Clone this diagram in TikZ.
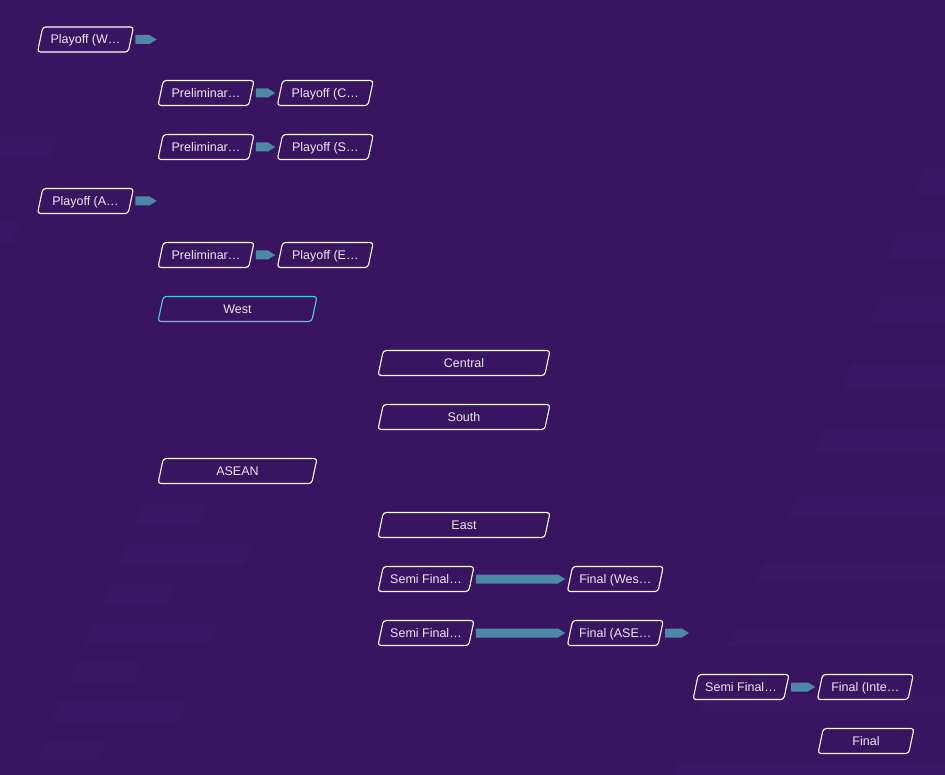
\documentclass[tikz,border=0pt]{standalone}
\usepackage{fontspec}
\setmainfont{Liberation Sans}
\usetikzlibrary{positioning,shapes.geometric,arrows.meta}

\definecolor{bg}{HTML}{391461}
\definecolor{stripe}{HTML}{3C1765}
\definecolor{lnk}{HTML}{4B8AA7}
\definecolor{sel}{HTML}{3FD3E0}
\definecolor{txt}{HTML}{EDE6F5}

\tikzset{
  match/.style={trapezium, trapezium left angle=78, trapezium right angle=102,
    trapezium stretches body=true, draw=white, line width=1.1pt, rounded corners=3pt,
    minimum width=96pt, minimum height=25pt, inner xsep=0pt, inner ysep=6.5pt,
    text height=10.5pt, text depth=1.5pt, text=txt,
    font=\fontsize{12.5}{14}\selectfont},
  group/.style={match, minimum width=159pt},
  stage/.style={match, minimum width=172pt},
  link/.style={draw=lnk, line width=9pt, -{Triangle[length=8pt, width=9pt]},
    shorten <=4pt, shorten >=4pt},
  band/.style={fill=stripe},
}

\begin{document}
\begin{tikzpicture}[x=1pt, y=-1pt]
\fill[bg] (0,0) rectangle (945,775);
\useasboundingbox (0,0) rectangle (945,775);

% faint stripes in the back
\foreach \yy/\xx/\hh in {167/925/28, 233/897/27, 297/880/27, 364/852/25, 430/825/23,
                         497/798/21, 563/765/19, 629/737/17, 695/708/17, 762/680/15}
  \fill[band] (\xx,\yy) -- (945,\yy) -- (945,\yy+\hh) -- (\xx-10,\yy+\hh) -- cycle;
\foreach \yy/\xa/\xb in {137/0/58, 222/0/20, 505/143/207, 545/127/252, 584/110/174,
                         623/92/218, 662/76/141, 701/60/186, 740/46/106}
  \fill[band] (\xa,\yy) -- (\xb,\yy) -- (\xb-8,\yy+21) -- (\xa-8,\yy+21) -- cycle;

% first round
\node[match] (pw) at (85.5,39.5) {Playoff (W…};
\coordinate[right = 29.5pt of pw] (pwx);
\node[match] (pr1) at (206,93) {Preliminar…};
\node[match, right = 27.5pt of pr1] (pc) {Playoff (C…};
\node[match] (pr2) at (206,147) {Preliminar…};
\node[match, right = 27.5pt of pr2] (ps) {Playoff (S…};
\node[match] (pa) at (85.5,201) {Playoff (A…};
\coordinate[right = 29.5pt of pa] (pax);
\node[match] (pr3) at (206,255) {Preliminar…};
\node[match, right = 27.5pt of pr3] (pe) {Playoff (E…};

% groups
\node[group, draw=sel] (west) at (237.5,309) {West};
\node[stage] (central) at (464,363) {Central};
\node[stage] (south) at (464,417) {South};
\node[group] (asean) at (237.5,471) {ASEAN};
\node[stage] (east) at (464,525) {East};

% knockout
\node[match] (sf1) at (426,579) {Semi Final…};
\node[match, right = 97.5pt of sf1] (fw) {Final (Wes…};
\node[match] (sf2) at (426,633) {Semi Final…};
\node[match, right = 97.5pt of sf2] (fa) {Final (ASE…};
\coordinate[right = 32pt of fa] (fax);
\node[match] (sf3) at (741,687) {Semi Final…};
\node[match, right = 32.5pt of sf3] (fi) {Final (Inte…};
\node[match] (fin) at (866,741) {Final};

\draw[link] (pw) -- (pwx);
\draw[link] (pa) -- (pax);
\draw[link] (pr1) -- (pc);
\draw[link] (pr2) -- (ps);
\draw[link] (pr3) -- (pe);
\draw[link] (sf1) -- (fw);
\draw[link] (sf2) -- (fa);
\draw[link] (fa) -- (fax);
\draw[link] (sf3) -- (fi);
\end{tikzpicture}
\end{document}
